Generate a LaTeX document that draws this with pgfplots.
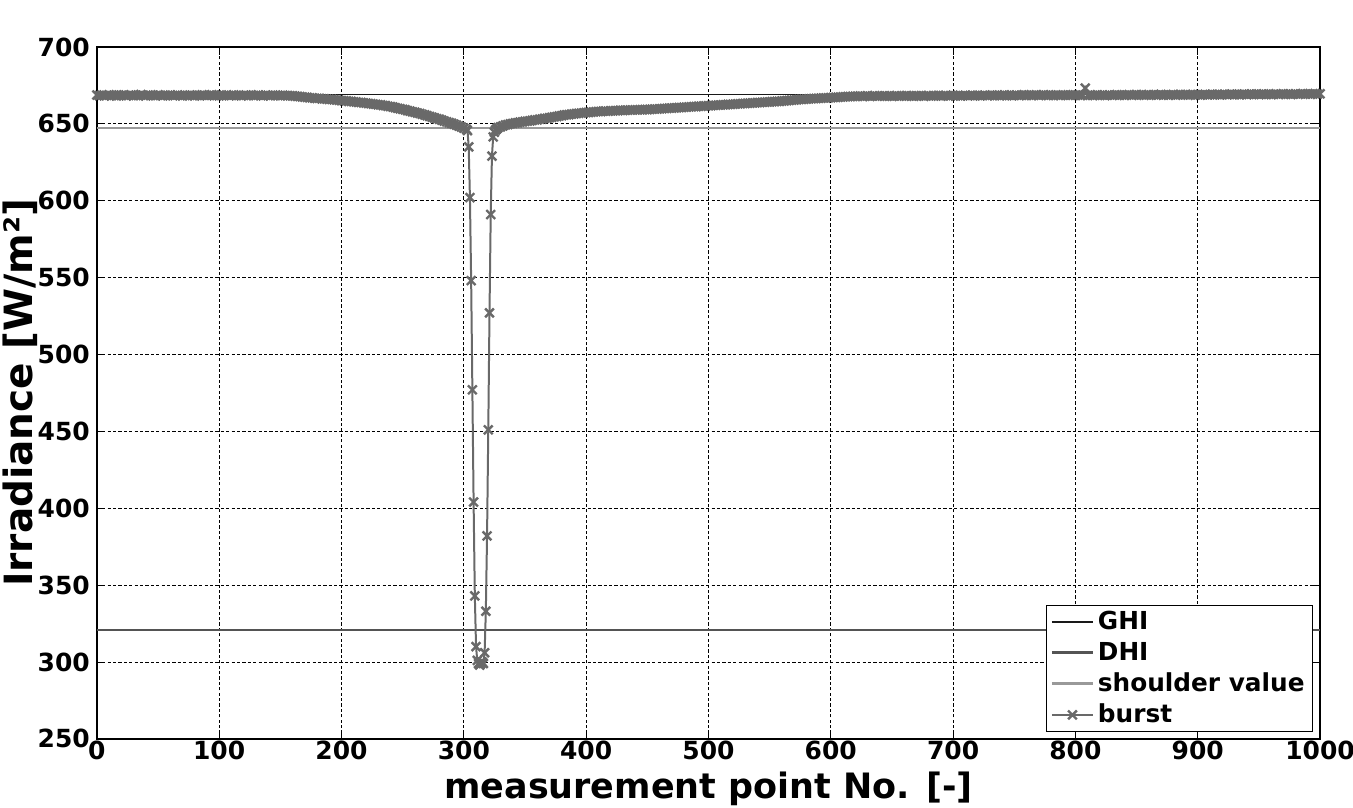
\documentclass[border=0pt]{standalone}
\usepackage{fontspec}
\setmainfont{DejaVu Sans}
\usepackage{pgfplots}
\pgfplotsset{compat=1.18}
\usetikzlibrary{calc}

\definecolor{ghi}{gray}{0.1}
\definecolor{dhi}{gray}{0.33}
\definecolor{shoulder}{gray}{0.6}
\definecolor{burst}{gray}{0.41}

\begin{document}
\begin{tikzpicture}
\begin{axis}[
    scale only axis,
    width=612.5pt, height=346.5pt,
    xmin=0, xmax=1000, ymin=250, ymax=700,
    xtick={0,100,...,1000}, ytick={250,300,...,700},
    grid=major,
    major grid style={black, line width=0.5pt, dash pattern=on 1.6pt off 1.1pt},
    axis line style={black, line width=0.7pt},
    tick align=inside, major tick length=4pt,
    tick style={black, line width=0.5pt},
    /pgf/number format/assume math mode=true,
    /pgf/number format/1000 sep={},
    tick label style={font=\fontsize{12.5}{14}\selectfont\bfseries},
    xticklabel style={yshift=2.5pt},
    xlabel={measurement point No. [-]},
    ylabel={Irradiance [W/m²]},
    xlabel style={font=\fontsize{17.5}{20}\selectfont\bfseries, yshift=1pt},
    ylabel style={font=\fontsize{19.5}{22}\selectfont\bfseries, yshift=-7pt},
    legend style={at={(1,0)}, anchor=south east, xshift=-3.5pt, yshift=3.5pt,
        draw=black, line width=0.5pt, fill=white,
        font=\fontsize{12.4}{13}\selectfont\bfseries,
        inner xsep=2pt, inner ysep=0.8pt, row sep=0.8pt},
    legend cell align=left,
    legend image code/.code={\draw[mark repeat=2,mark phase=2,#1] plot coordinates {(0cm,0cm) (0.36cm,0cm) (0.72cm,0cm)};},
]
\addplot[ghi, line width=0.9pt, no marks] coordinates {(0,669.0)(1000,669.0)};
\addplot[dhi, line width=1.1pt, no marks] coordinates {(0,320.8)(1000,320.8)};
\addplot[shoulder, line width=1.1pt, no marks] coordinates {(0,647.3)(1000,647.3)};
\addplot[burst, line width=1pt, mark=x, mark size=3.1pt, mark options={line width=1.2pt, solid}] coordinates {
(0,668.7)(2,668.3)(4,668.6)(6,668.2)(8,668.5)(10,668.9)(12,668.3)(14,668.6)(16,668.1)(18,668.7)
(20,668.4)(22,668.8)(24,668.2)(26,668.5)(28,668.7)(30,668.3)(32,668.6)(34,668.4)(36,669.0)(38,668.5)
(40,668.2)(42,668.7)(44,668.4)(46,668.6)(48,668.3)(50,668.8)(52,668.5)(54,668.2)(56,668.6)(58,668.4)
(60,668.7)(62,668.3)(64,668.5)(66,668.8)(68,668.4)(70,668.1)(72,668.6)(74,668.4)(76,668.7)(78,668.5)
(80,668.2)(82,668.6)(84,668.4)(86,668.8)(88,668.5)(90,668.3)(92,668.6)(94,668.9)(96,668.4)(98,668.5)
(100,668.2)(102,668.7)(104,668.4)(106,668.6)(108,668.3)(110,668.5)(112,668.8)(114,668.4)(116,668.6)(118,668.2)
(120,668.5)(122,668.7)(124,668.4)(126,668.6)(128,668.3)(130,668.5)(132,668.8)(134,668.4)(136,668.2)(138,668.6)
(140,668.5)(142,668.3)(144,668.7)(146,668.4)(148,668.5)(150,668.2)(152,668.6)(154,668.4)(156,668.4)(158,668.2)
(160,668.2)(162,668.0)(164,667.8)(166,667.7)(168,667.5)(170,667.3)(172,667.2)(174,666.9)(176,666.9)(178,666.6)
(180,666.5)(182,666.6)(184,666.2)(186,666.3)(188,666.0)(190,665.9)(192,665.9)(194,665.6)(196,665.5)(198,665.3)
(200,665.1)(202,665.0)(204,664.9)(206,664.6)(208,664.6)(210,664.3)(212,664.2)(214,663.9)(216,663.9)(218,663.6)
(220,663.5)(222,663.2)(224,663.1)(226,662.8)(228,662.7)(230,662.4)(232,662.3)(234,661.9)(236,661.8)(238,661.4)
(240,661.2)(242,660.9)(244,660.5)(246,660.1)(248,659.8)(250,659.4)(252,659.1)(254,658.6)(256,658.3)(258,657.8)
(260,657.5)(262,657.0)(264,656.7)(266,656.2)(268,655.8)(270,655.3)(272,654.8)(274,654.3)(276,653.8)(278,653.3)
(280,652.9)(282,652.4)(284,651.8)(286,651.3)(288,650.8)(290,650.3)(292,649.7)(294,649.1)(296,648.5)(298,647.9)
(300,647.2)(302,646.5)(303,645.6)(304,635)(305,602)(306,548)(307,477)(308,404)(309,343)(310,310)
(311,301)(312,299)(313,298)(314,299)(315,300)(316,299)(317,306)(318,333)(319,382)(320,451)
(321,527)(322,591)(323,629)(324,641.5)(325,644.5)(326,646.0)(327,646.8)(328,647.5)
(330,648.0)(332,648.6)(334,649.3)(336,649.5)(338,650.0)(340,650.2)(342,650.6)(344,650.7)(346,651.1)(348,651.2)
(350,651.6)(352,651.7)(354,651.9)(356,652.2)(358,652.5)(360,652.6)(362,653.0)(364,653.1)(366,653.5)(368,653.6)
(370,654.0)(372,654.2)(374,654.5)(376,654.7)(378,655.1)(380,655.3)(382,655.7)(384,655.9)(386,656.0)(388,656.3)
(390,656.4)(392,656.7)(394,656.8)(396,657.0)(398,657.1)(400,657.3)(402,657.4)(404,657.6)(406,657.7)(408,657.9)
(410,658.0)(412,658.0)(414,658.2)(416,658.3)(418,658.2)(420,658.5)(422,658.4)(424,658.6)(426,658.5)(428,658.8)
(430,658.7)(432,658.9)(434,658.8)(436,659.0)(438,658.9)(440,659.1)(442,659.0)(444,659.2)(446,659.1)(448,659.3)
(450,659.2)(452,659.4)(454,659.5)(456,659.6)(458,659.6)(460,659.8)(462,659.8)(464,660.0)(466,660.0)(468,660.2)
(470,660.2)(472,660.4)(474,660.4)(476,660.6)(478,660.6)(480,660.8)(482,660.8)(484,661.0)(486,661.0)(488,661.2)
(490,661.2)(492,661.4)(494,661.4)(496,661.6)(498,661.6)(500,661.8)(502,661.8)(504,662.0)(506,662.0)(508,662.2)
(510,662.2)(512,662.4)(514,662.4)(516,662.6)(518,662.6)(520,662.8)(522,662.8)(524,663.0)(526,663.0)(528,663.2)
(530,663.2)(532,663.4)(534,663.4)(536,663.6)(538,663.6)(540,663.8)(542,663.8)(544,664.0)(546,664.0)(548,664.2)
(550,664.2)(552,664.4)(554,664.4)(556,664.6)(558,664.6)(560,664.8)(562,664.9)(564,665.1)(566,665.2)(568,665.4)
(570,665.5)(572,665.6)(574,665.8)(576,665.9)(578,666.0)(580,666.1)(582,666.2)(584,666.3)(586,666.4)(588,666.5)
(590,666.6)(592,666.7)(594,666.8)(596,666.8)(598,666.9)(600,667.0)(602,667.1)(604,667.2)(606,667.3)(608,667.4)
(610,667.5)(612,667.6)(614,667.7)(616,667.7)(618,667.8)(620,667.9)(622,667.9)(624,668.1)(626,667.8)(628,668.0)
(630,668.2)(632,667.9)(634,668.1)(636,668.3)(638,667.9)(640,668.1)(642,668.0)(644,668.3)(646,668.0)(648,668.2)
(650,667.9)(652,668.1)(654,668.3)(656,668.0)(658,668.2)(660,668.0)(662,668.4)(664,668.1)(666,668.2)(668,667.9)
(670,668.3)(672,668.1)(674,668.4)(676,668.0)(678,668.2)(680,668.3)(682,668.0)(684,668.4)(686,668.2)(688,668.5)
(690,668.1)(692,668.3)(694,668.4)(696,668.1)(698,668.3)(700,668.6)(702,668.2)(704,668.4)(706,668.1)(708,668.3)
(710,668.5)(712,668.2)(714,668.4)(716,668.6)(718,668.3)(720,668.5)(722,668.2)(724,668.4)(726,668.6)(728,668.3)
(730,668.5)(732,668.7)(734,668.4)(736,668.6)(738,668.3)(740,668.5)(742,668.8)(744,668.4)(746,668.6)(748,668.3)
(750,668.5)(752,668.7)(754,668.4)(756,668.6)(758,668.9)(760,668.5)(762,668.7)(764,668.4)(766,668.6)(768,668.8)
(770,668.5)(772,668.7)(774,668.9)(776,668.6)(778,668.4)(780,668.7)(782,668.5)(784,668.8)(786,668.6)(788,668.4)
(790,668.7)(792,668.5)(794,668.8)(796,668.6)(798,668.9)(800,668.5)(802,668.7)(804,668.4)(806,668.6)(808,673.2)
(810,668.5)(812,668.7)(814,668.4)(816,668.6)(818,668.9)(820,668.5)(822,668.7)(824,668.4)(826,668.6)(828,668.8)
(830,668.5)(832,668.7)(834,668.9)(836,668.6)(838,668.8)(840,668.5)(842,668.7)(844,668.9)(846,668.6)(848,668.8)
(850,669.0)(852,668.7)(854,668.9)(856,668.6)(858,668.8)(860,669.0)(862,668.7)(864,668.9)(866,668.6)(868,668.8)
(870,669.1)(872,668.7)(874,668.9)(876,668.6)(878,668.8)(880,669.0)(882,668.7)(884,668.9)(886,669.1)(888,668.8)
(890,669.0)(892,668.7)(894,668.9)(896,669.1)(898,668.8)(900,669.0)(902,668.7)(904,668.9)(906,669.1)(908,668.8)
(910,669.0)(912,669.2)(914,668.9)(916,669.1)(918,668.8)(920,669.0)(922,669.2)(924,668.9)(926,669.1)(928,669.3)
(930,669.0)(932,669.2)(934,668.9)(936,669.1)(938,669.3)(940,669.0)(942,669.2)(944,669.4)(946,669.1)(948,669.3)
(950,669.0)(952,669.2)(954,669.4)(956,669.1)(958,669.3)(960,669.0)(962,669.2)(964,669.4)(966,669.1)(968,669.3)
(970,669.5)(972,669.2)(974,669.4)(976,669.1)(978,669.3)(980,669.5)(982,669.2)(984,669.4)(986,669.6)(988,669.3)
(990,669.5)(992,669.2)(994,669.4)(996,669.6)(998,669.3)(1000,669.5)
};
\legend{GHI,DHI,shoulder value,burst}
\end{axis}
\pgfresetboundingbox
\path[use as bounding box] ($(current axis.south west)+(-48.5pt,-34.5pt)$) rectangle ($(current axis.north east)+(16.5pt,23.5pt)$);
\end{tikzpicture}
\end{document}
